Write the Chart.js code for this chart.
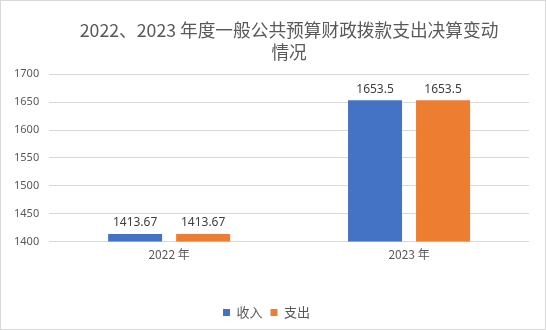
<!DOCTYPE html>
<html>
<head>
<meta charset="utf-8">
<script src="https://cdn.jsdelivr.net/npm/chart.js@4/dist/chart.umd.min.js"></script>
<style>
  html, body { margin: 0; padding: 0; background: #fff; }
  #wrap {
    position: absolute; left: 0; top: 0;
    width: 546px; height: 330px;
    box-sizing: border-box;
    border: 1px solid #d9d9d9;
  }
</style>
</head>
<body>
<div id="wrap"><canvas id="budgetChart"></canvas></div>
<script>
// 年度及收支数据
const years = ['2022 年', '2023 年'];
const incomeValues = [1413.67, 1653.5];
const expenseValues = [1413.67, 1653.5];
const seriesNames = ['收入', '支出'];
const titleLines = ['2022、2023 年度一般公共预算财政拨款支出决算变动', '情况'];

const FONT = "'Noto Sans', 'Noto Sans CJK SC', sans-serif";
const CJK_FONT = "'Noto Sans CJK SC', 'Noto Sans', sans-serif";

// 柱顶数值标签
const valueLabels = {
  id: 'valueLabels',
  afterDatasetsDraw(chart) {
    const ctx = chart.ctx;
    ctx.save();
    ctx.font = '12px ' + FONT;
    ctx.fillStyle = '#404040';
    ctx.textAlign = 'center';
    ctx.textBaseline = 'bottom';
    chart.data.datasets.forEach((ds, i) => {
      chart.getDatasetMeta(i).data.forEach((bar, j) => {
        ctx.fillText(String(ds.data[j]), bar.x, bar.y - 5);
      });
    });
    ctx.restore();
  }
};

const ctx = document.getElementById('budgetChart').getContext('2d');
new Chart(ctx, {
  type: 'bar',
  data: {
    labels: years,
    datasets: [
      { label: seriesNames[0], data: incomeValues, backgroundColor: '#4472C4' },
      { label: seriesNames[1], data: expenseValues, backgroundColor: '#ED7D31' }
    ]
  },
  options: {
    responsive: true,
    maintainAspectRatio: false,
    animation: false,
    categoryPercentage: 0.567,
    barPercentage: 0.794,
    layout: { padding: { top: 18, right: 16, left: 3, bottom: 0 } },
    plugins: {
      title: {
        display: true,
        fullSize: false,
        text: titleLines,
        color: '#595959',
        font: { family: CJK_FONT, size: 17.7, weight: 'normal', lineHeight: 1.25 },
        padding: { top: 0, bottom: 11 }
      },
      legend: {
        position: 'bottom',
        labels: {
          boxWidth: 7,
          boxHeight: 7,
          color: '#595959',
          padding: 8,
          font: { family: CJK_FONT, size: 13 }
        }
      },
      tooltip: { enabled: false }
    },
    scales: {
      x: {
        grid: { display: false },
        border: { display: false },
        ticks: { color: '#595959', font: { family: CJK_FONT, size: 12 }, padding: -2 },
        afterFit(scale) { scale.height += 38; }
      },
      y: {
        min: 1400,
        max: 1700,
        border: { display: false },
        grid: { color: '#d9d9d9', drawTicks: false },
        ticks: {
          stepSize: 50,
          color: '#595959',
          font: { family: FONT, size: 11 },
          padding: 10,
          callback: v => String(v)
        }
      }
    }
  },
  plugins: [valueLabels]
});
</script>
</body>
</html>
